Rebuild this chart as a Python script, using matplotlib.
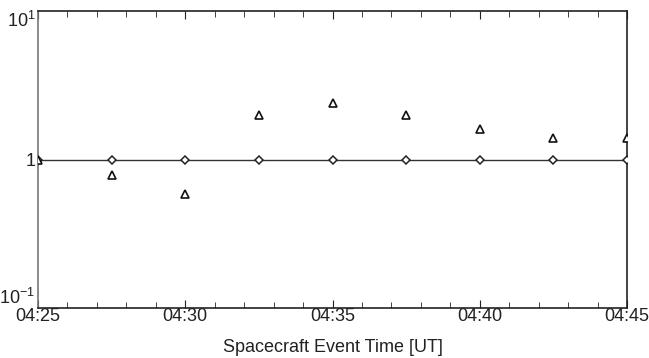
import datetime as dt

import matplotlib
matplotlib.use("Agg")
import matplotlib.pyplot as plt
import matplotlib.dates as mdates
import matplotlib.ticker as ticker

plt.rcParams["font.family"] = ["Liberation Sans", "DejaVu Sans"]

# Sample times (UT) and normalised ratios
times = ["04:25:00", "04:27:30", "04:30:00", "04:32:30", "04:35:00",
         "04:37:30", "04:40:00", "04:42:30", "04:45:00"]
model_ratio = [1.0, 1.0, 1.0, 1.0, 1.0, 1.0, 1.0, 1.0, 1.0]
obs_ratio = [1.0, 0.79, 0.59, 2.0, 2.4, 2.0, 1.6, 1.4, 1.4]

ytick_vals = [0.1, 1, 10]
ytick_text = [r"$\mathregular{10^{-1}}$", "1", r"$\mathregular{10^{1}}$"]

day = dt.date(2000, 1, 1)
t = [dt.datetime.combine(day, dt.time.fromisoformat(s)) for s in times]
t0 = dt.datetime.combine(day, dt.time(4, 25))
t1 = dt.datetime.combine(day, dt.time(4, 45))

fig = plt.figure(figsize=(6.49, 3.58), dpi=100)
ax = fig.add_axes([38 / 649, 1 - 308 / 358, 589 / 649, 297 / 358])

ax.plot(t, model_ratio, color="#333333", linewidth=1.0, zorder=2)
ax.plot(t, model_ratio, linestyle="none", marker="D", markersize=3.6,
        markerfacecolor="white", markeredgecolor="#222222", markeredgewidth=1.1, zorder=3)
ax.plot(t, obs_ratio, linestyle="none", marker="^", markersize=6,
        markerfacecolor="white", markeredgecolor="#111111", markeredgewidth=1.2, zorder=3)

ax.set_yscale("log")
ax.set_ylim(0.1, 10)
ax.set_xlim(t0, t1)

ax.yaxis.set_major_locator(ticker.FixedLocator(ytick_vals))
ax.yaxis.set_major_formatter(ticker.FixedFormatter(ytick_text))
ax.yaxis.set_minor_locator(ticker.NullLocator())

ax.xaxis.set_major_locator(mdates.MinuteLocator(byminute=range(0, 60, 5)))
ax.xaxis.set_minor_locator(mdates.MinuteLocator())
ax.xaxis.set_major_formatter(mdates.DateFormatter("%H:%M"))

ax.tick_params(axis="x", which="both", direction="in", top=True, labelsize=13, pad=0,
               colors="#222222", labelcolor="#222222")
ax.tick_params(axis="x", which="major", length=6)
ax.tick_params(axis="x", which="minor", length=4)
ax.tick_params(axis="y", which="both", length=0, labelsize=13, pad=2, labelcolor="#222222")

# keep the end labels inside the axis span, as the plotting tool did
fig.canvas.draw()
ylabels = ax.get_yticklabels()
ylabels[0].set_va("bottom")
ylabels[-1].set_va("top")

for side in ["bottom", "right", "top"]:
    ax.spines[side].set_color("#222222")
ax.spines["left"].set_color("#777777")
for sp in ax.spines.values():
    sp.set_linewidth(1.2)

ax.set_xlabel("Spacecraft Event Time [UT]", fontsize=13, color="#222222", labelpad=10)

fig.savefig("out.png", dpi=100)
